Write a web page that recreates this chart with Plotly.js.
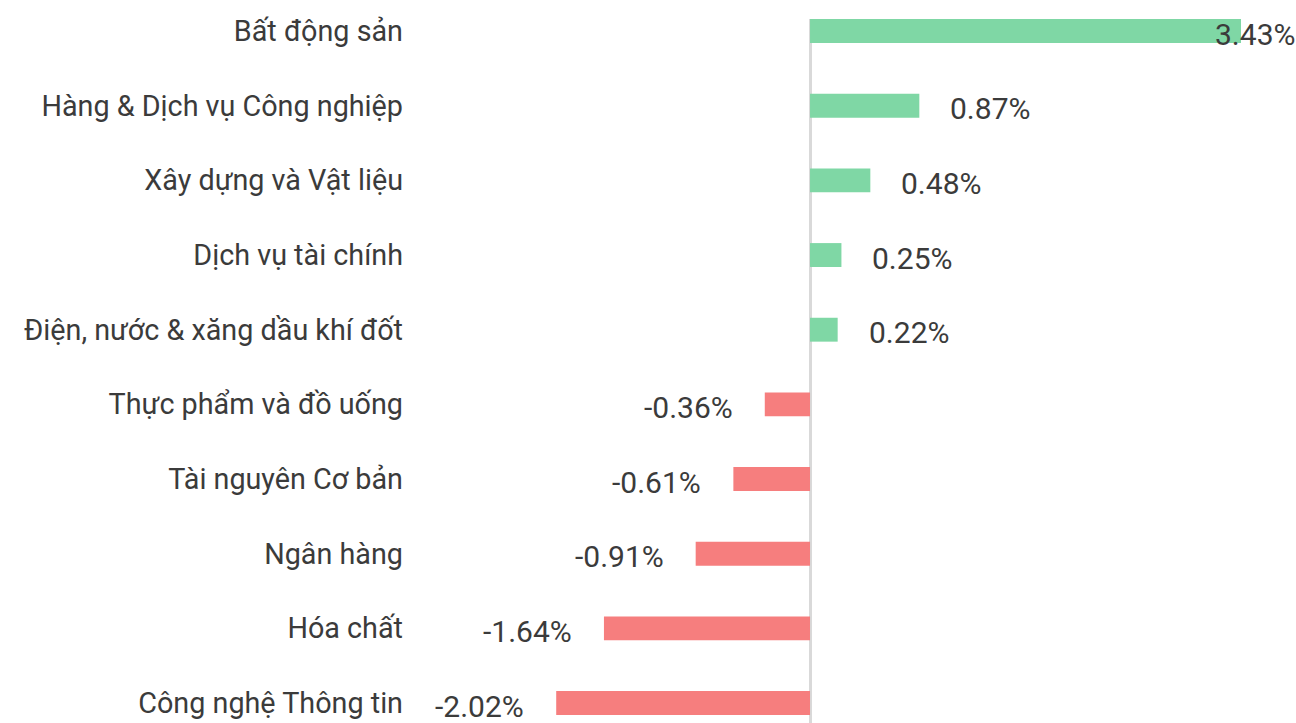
<!DOCTYPE html>
<html>
<head>
<meta charset="utf-8">
<script src="https://cdn.plot.ly/plotly-3.0.1.min.js"></script>
<style>html,body{margin:0;padding:0;background:#fff;}#chart{width:1296px;height:723px;}</style>
</head>
<body>
<div id="chart"></div>
<script>
const categories = [
  "Bất động sản",
  "Hàng & Dịch vụ Công nghiệp",
  "Xây dựng và Vật liệu",
  "Dịch vụ tài chính",
  "Điện, nước & xăng dầu khí đốt",
  "Thực phẩm và đồ uống",
  "Tài nguyên Cơ bản",
  "Ngân hàng",
  "Hóa chất",
  "Công nghệ Thông tin"
];
const values = [3.43, 0.87, 0.48, 0.25, 0.22, -0.36, -0.61, -0.91, -1.64, -2.02];
const labels = values.map(v => v.toFixed(2) + "%");

const GREEN = "#7fd7a5";
const RED = "#f67e7e";
const FONT = "Roboto, 'Noto Sans', sans-serif";
const TEXTCOLOR = "#3b3b3b";

const xMax = 3.43;
const xMin = -3.104;

const annotations = values.map((v, i) => {
  const overflow = v >= xMax;
  if (overflow) {
    return {xref: "paper", yref: "y", x: 1, y: categories[i], text: labels[i],
      xanchor: "left", xshift: -28, yshift: -3, showarrow: false,
      font: {family: FONT, size: 30, color: TEXTCOLOR}};
  }
  return {xref: "x", yref: "y", x: v, y: categories[i], text: labels[i],
    xanchor: v >= 0 ? "left" : "right", xshift: v >= 0 ? 29 : -30, yshift: -3,
    showarrow: false, font: {family: FONT, size: 30, color: TEXTCOLOR}};
});

const trace = {
  type: "bar",
  orientation: "h",
  y: categories,
  x: values,
  width: 0.32,
  marker: {color: values.map(v => v >= 0 ? GREEN : RED)},
  hoverinfo: "none"
};

const layout = {
  width: 1296, height: 723,
  margin: {l: 420, r: 55, t: 19, b: 0, pad: 0},
  paper_bgcolor: "#ffffff",
  plot_bgcolor: "#ffffff",
  showlegend: false,
  xaxis: {range: [xMin, xMax], showgrid: false, showticklabels: false, ticks: "",
    zeroline: true, zerolinecolor: "#d9d9d9", zerolinewidth: 3, showline: false},
  yaxis: {type: "category", range: [9.267, -0.161], showgrid: false, zeroline: false,
    ticks: "", ticklabelstandoff: 16,
    tickfont: {family: FONT, size: 28.75, color: TEXTCOLOR}},
  annotations: annotations
};

Plotly.newPlot("chart", [trace], layout, {displayModeBar: false, staticPlot: true});
</script>
</body>
</html>
